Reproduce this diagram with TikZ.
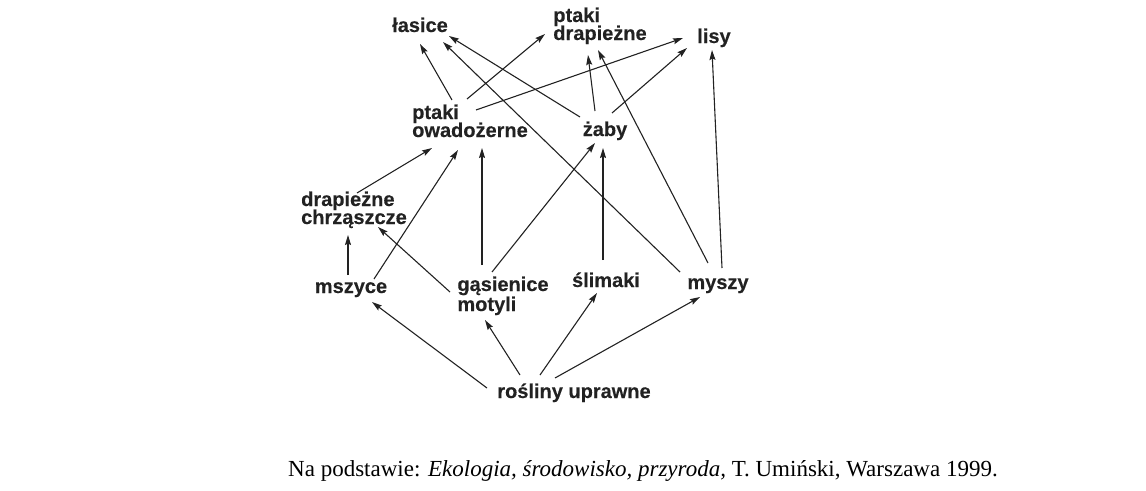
\documentclass[tikz,border=0pt]{standalone}
\usepackage{fontspec}
\setmainfont{Liberation Serif}
\newfontfamily\labelfont{Liberation Sans}[BoldFeatures={FakeBold=0.3}]
\usetikzlibrary{arrows.meta}
\definecolor{inkgray}{HTML}{222222}
\newcommand\graphfont{\labelfont\bfseries\fontsize{20}{18}\selectfont\lineskiplimit -20pt\relax}

\begin{document}
\begin{tikzpicture}
[
x=1pt, y=-1pt,
graph text/.style={font=\graphfont, text=inkgray, align=left, inner sep=0pt, anchor=base},
graph arrow/.style={draw=inkgray, line width=1.1pt, -{Stealth[length=10pt,width=6pt,inset=1.5pt]}},
graph caption/.style={font=\fontsize{23}{26}\selectfont, text=black, anchor=base}
]
\useasboundingbox (0,0) rectangle (1146,490);

% top row
\node[graph text] (lasice) at (420,32) {łasice};
\node[graph text] (ptdr) at (600,40) {ptaki\\drapieżne};
\node[graph text] (lisy) at (714,43) {lisy};

% second row
\node[graph text] (ptow) at (470,137) {ptaki\\owadożerne};
\node[graph text] (zaby) at (605,136) {żaby};

% third row
\node[graph text] (drch) at (354,224) {drapieżne\\chrząszcze};

% fourth row
\node[graph text] (mszyce) at (351,293) {mszyce};
\node[graph text] (gamo) at (503,311) {gąsienice\\[2pt]motyli};
\node[graph text] (slimaki) at (606,287) {ślimaki};
\node[graph text] (myszy) at (718,289) {myszy};

% bottom
\node[graph text] (rosliny) at (574,398) {rośliny uprawne};

% source
\node[graph caption] (source) at (643,476) {Na podstawie: \textit{Ekologia, środowisko, przyroda,} T. Umiński, Warszawa 1999.};

% into the top row
\draw[graph arrow] ([shift={(-18,-37)}]ptow.base) -- ([shift={(0,12)}]lasice.base);
\draw[graph arrow] ([shift={(-3,-38)}]ptow.base) -- ([shift={(-55,-6)}]ptdr.base);
\draw[graph arrow] ([shift={(6,-27)}]ptow.base) -- ([shift={(-31,-5)}]lisy.base);
\draw[graph arrow] ([shift={(-25,-19)}]zaby.base) -- ([shift={(29,4)}]lasice.base);
\draw[graph arrow] ([shift={(-38,-17)}]myszy.base) -- ([shift={(23,10)}]lasice.base);
\draw[graph arrow] ([shift={(-10,-25)}]zaby.base) -- ([shift={(-12,15)}]ptdr.base);
\draw[graph arrow] ([shift={(-10,-26)}]myszy.base) -- ([shift={(-2,10)}]ptdr.base);
\draw[graph arrow] ([shift={(7,-23)}]zaby.base) -- ([shift={(-27,5)}]lisy.base);
\draw[graph arrow] ([shift={(4,-21)}]myszy.base) -- ([shift={(-2,7)}]lisy.base);

% into the second row
\draw[graph arrow] ([shift={(3,-31)}]drch.base) -- ([shift={(-38,11)}]ptow.base);
\draw[graph arrow] ([shift={(23,-14)}]mszyce.base) -- ([shift={(-12,13)}]ptow.base);
\draw[graph arrow] ([shift={(-21,-46)}]gamo.base) -- ([shift={(12,11)}]ptow.base);
\draw[graph arrow] ([shift={(-11,-39)}]gamo.base) -- ([shift={(-10,7)}]zaby.base);
\draw[graph arrow] ([shift={(-3,-27)}]slimaki.base) -- ([shift={(-2,12)}]zaby.base);

% into drapiezne chrzaszcze
\draw[graph arrow] ([shift={(-3,-18)}]mszyce.base) -- ([shift={(-6,11)}]drch.base);
\draw[graph arrow] ([shift={(-53,-19)}]gamo.base) -- ([shift={(24,3)}]drch.base);

% from rosliny uprawne
\draw[graph arrow] ([shift={(-87,-10)}]rosliny.base) -- ([shift={(21,9)}]mszyce.base);
\draw[graph arrow] ([shift={(-54,-23)}]rosliny.base) -- ([shift={(-18,9)}]gamo.base);
\draw[graph arrow] ([shift={(-34,-23)}]rosliny.base) -- ([shift={(-9,6)}]slimaki.base);
\draw[graph arrow] ([shift={(-19,-20)}]rosliny.base) -- ([shift={(-18,8)}]myszy.base);

\end{tikzpicture}
\end{document}
